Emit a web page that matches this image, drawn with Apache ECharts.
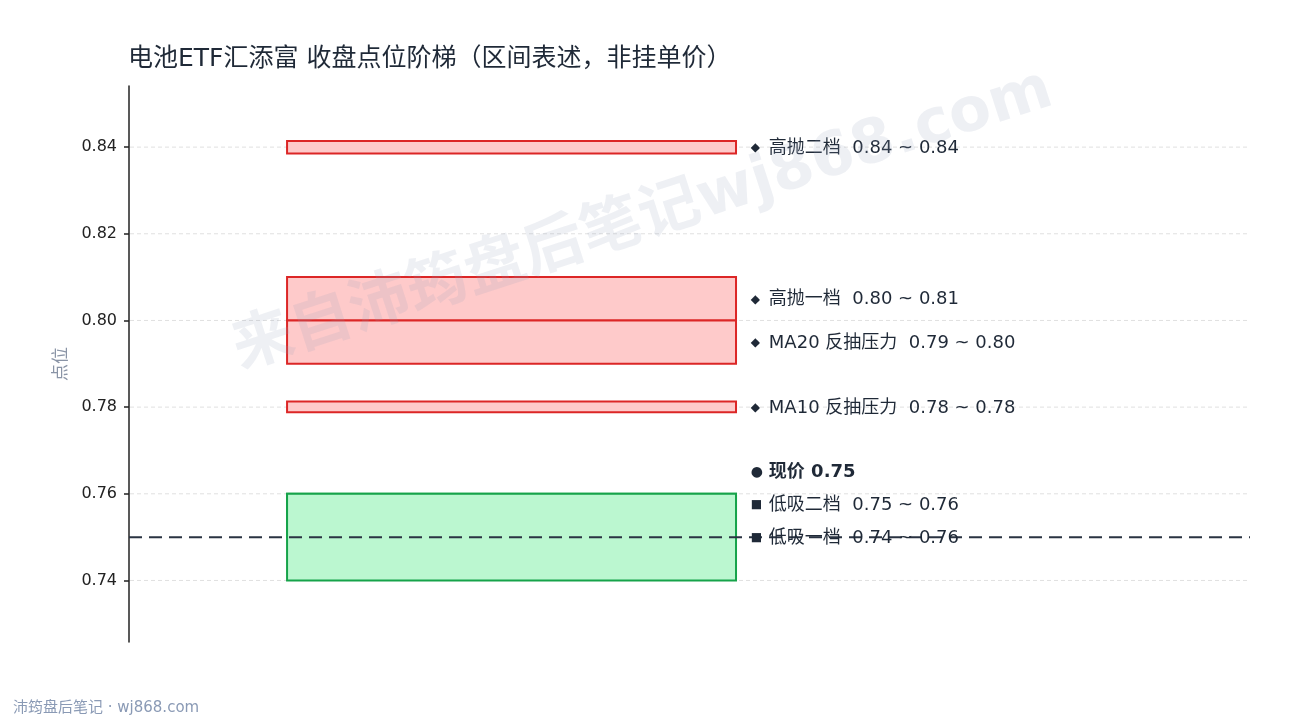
<!DOCTYPE html>
<html>
<head>
<meta charset="utf-8">
<script src="https://cdn.jsdelivr.net/npm/echarts@6/dist/echarts.min.js"></script>
<style>
html,body{margin:0;padding:0;background:#fff;}
#c{width:1290px;height:720px;}
</style>
</head>
<body>
<div id="c"></div>
<script>
// ---- data ----
const titleText = '电池ETF汇添富 收盘点位阶梯（区间表述，非挂单价）';
const zoneNames = ['高抛二档', '高抛一档', 'MA20 反抽压力', 'MA10 反抽压力', '低吸二档', '低吸一档'];
const zoneLow  = [0.8385, 0.80, 0.79, 0.7788, 0.75, 0.74];
const zoneHigh = [0.8414, 0.81, 0.80, 0.7813, 0.76, 0.76];
const zoneKind = ['sell', 'sell', 'sell', 'sell', 'buy', 'buy'];
const currentPrice = 0.75;
const currentLabel = '现价';
const yTicks = [0.74, 0.76, 0.78, 0.80, 0.82, 0.84];
const yMin = 0.7258, yMax = 0.8541;
const watermarkText = '来自沛筠盘后笔记wj868.com';
const footerText = '沛筠盘后笔记 · wj868.com';

// ---- styling ----
const FONT = '"DejaVu Sans","Noto Sans CJK SC",sans-serif';
const styles = {
  sell: {fill: '#fecaca', stroke: '#dc2626', marker: '◆'},
  buy:  {fill: '#bbf7d0', stroke: '#16a34a', marker: '■'}
};
const X0 = 0.141, X1 = 0.5415, XL = 0.5565;

const chart = echarts.init(document.getElementById('c'), null, {renderer: 'canvas'});

const zoneData = zoneNames.map((n, i) => [zoneLow[i], zoneHigh[i], i]);

chart.setOption({
  animation: false,
  backgroundColor: '#ffffff',
  title: {
    text: titleText, left: 123, top: 42,
    textStyle: {fontFamily: FONT, fontSize: 25, fontWeight: 'normal', color: '#1f2937'}
  },
  grid: {left: 129, right: 40, top: 86, bottom: 78, containLabel: false},
  xAxis: {type: 'value', min: 0, max: 1, show: false},
  yAxis: {
    type: 'value', min: yMin, max: yMax,
    name: '点位', nameLocation: 'middle', nameGap: 59, nameRotate: 90,
    nameTextStyle: {fontFamily: FONT, fontSize: 17, color: '#8a94a6'},
    axisLine: {show: true, lineStyle: {color: '#222', width: 1.5}},
    axisTick: {show: true, length: 5, lineStyle: {color: '#222', width: 1.5},
      customValues: yTicks},
    axisLabel: {fontFamily: FONT, fontSize: 16, color: '#222', margin: 12,
      padding: [4, 0, 0, 0],
      customValues: yTicks,
      formatter: v => v.toFixed(2)},
    splitLine: {show: false}
  },
  series: [
    {
      type: 'custom',
      data: yTicks.map(v => [v]),
      z: 1,
      silent: true,
      renderItem: function (params, api) {
        const v = api.value(0);
        const a = api.coord([0, v]);
        const b = api.coord([1, v]);
        return {
          type: 'line',
          shape: {x1: a[0] + 1, y1: a[1], x2: b[0], y2: b[1]},
          style: {stroke: '#e0e0e0', lineWidth: 1, lineDash: [4, 3]}
        };
      }
    },
    {
      type: 'custom',
      data: zoneData,
      z: 2,
      renderItem: function (params, api) {
        const lo = api.value(0), hi = api.value(1), i = api.value(2);
        const st = styles[zoneKind[i]];
        const p0 = api.coord([X0, hi]);
        const p1 = api.coord([X1, lo]);
        return {
          type: 'rect',
          shape: {x: p0[0], y: p0[1], width: p1[0] - p0[0], height: p1[1] - p0[1]},
          style: {fill: st.fill, stroke: st.stroke, lineWidth: 2}
        };
      }
    },
    {
      type: 'custom',
      data: [[currentPrice]],
      z: 3,
      renderItem: function (params, api) {
        const v = api.value(0);
        const a = api.coord([0, v]);
        const b = api.coord([1, v]);
        return {
          type: 'line',
          shape: {x1: a[0], y1: a[1], x2: b[0], y2: b[1]},
          style: {stroke: '#2a3342', lineWidth: 2, lineDash: [13, 7]}
        };
      }
    }
  ]
});

// ---- labels with simple anti-overlap ----
const items = [];
for (let i = 0; i < 4; i++) {
  items.push({ideal: (zoneLow[i] + zoneHigh[i]) / 2,
    text: zoneNames[i] + '  ' + zoneLow[i].toFixed(2) + ' ~ ' + zoneHigh[i].toFixed(2),
    marker: styles.sell.marker, bold: false});
}
items.push({ideal: currentPrice, text: currentLabel + ' ' + currentPrice.toFixed(2), marker: '●', bold: true});
for (let i = 4; i < 6; i++) {
  items.push({ideal: (zoneLow[i] + zoneHigh[i]) / 2,
    text: zoneNames[i] + '  ' + zoneLow[i].toFixed(2) + ' ~ ' + zoneHigh[i].toFixed(2),
    marker: styles.buy.marker, bold: false});
}
const GAP = 33;
const px = items.map(it => chart.convertToPixel({yAxisIndex: 0}, it.ideal));
for (let i = items.length - 2; i >= 0; i--) {
  px[i] = Math.min(px[i], px[i + 1] - GAP);
}
const lx = chart.convertToPixel({xAxisIndex: 0}, XL);

const graphics = items.map((it, i) => ({
  type: 'text', x: lx - 2, y: px[i] + 1, z: 10,
  style: {
    text: '{m|' + it.marker + '}{t|' + it.text + '}',
    verticalAlign: 'middle', align: 'left',
    rich: {
      m: {fontSize: it.marker === '◆' ? 12 : (it.marker === '●' ? 14 : 12), fill: '#1f2937', fontFamily: FONT,
          width: 18, lineHeight: 24},
      t: {fontSize: 18, fill: '#1f2937', fontFamily: FONT,
          fontWeight: it.bold ? 'bold' : 'normal', lineHeight: 24}
    }
  }
}));

graphics.push({
  type: 'text', x: 643, y: 221, rotation: 18 * Math.PI / 180, z: 20,
  style: {
    text: watermarkText, fontSize: 61, fontWeight: 'bold', fontFamily: FONT,
    fill: 'rgba(148,160,184,0.16)', align: 'center', verticalAlign: 'middle'
  }
});
graphics.push({
  type: 'text', left: 13, top: 701, z: 10,
  style: {text: footerText, fontSize: 15, fontFamily: FONT, fill: '#8a9ab5'}
});

chart.setOption({graphic: graphics});
</script>
</body>
</html>
